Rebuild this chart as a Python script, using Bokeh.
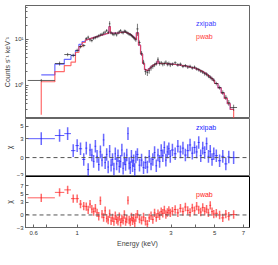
import numpy as np
from bokeh.plotting import figure
from bokeh.layouts import column
from bokeh.models import Range1d, FixedTicker, Span, Label
from bokeh.embed import file_html
from bokeh.resources import INLINE

# ---------------- data ----------------
edges = [0.56, 0.77, 0.86, 0.93, 0.98, 1.02, 1.06, 1.10,
         1.125, 1.15, 1.175, 1.20, 1.225, 1.25, 1.275, 1.30, 1.325, 1.35, 1.375, 1.40,
         1.425, 1.45, 1.475, 1.50, 1.525, 1.55, 1.575, 1.60, 1.625, 1.65, 1.675, 1.70,
         1.725, 1.75, 1.775, 1.80, 1.825, 1.85, 1.875, 1.90, 1.925, 1.95, 1.975, 2.00,
         2.05, 2.10, 2.15, 2.20, 2.25, 2.30, 2.35, 2.40, 2.45, 2.50,
         2.55, 2.60, 2.65, 2.70, 2.75, 2.80, 2.85, 2.90, 2.95, 3.00,
         3.1, 3.2, 3.3, 3.4, 3.5, 3.6, 3.7, 3.8, 3.9, 4.0,
         4.1, 4.2, 4.3, 4.4, 4.5, 4.6, 4.7, 4.8, 4.9, 5.0,
         5.2, 5.4, 5.6, 5.8, 6.0, 6.5]

counts = [1.28, 3.0, 4.7, 4.5, 5.8, 7.0, 7.4,
          10.5, 11.2, 9.8, 9.5, 10.6, 11.0, 11.5, 12.0, 12.6, 13.0, 13.8, 14.5, 15.7, 14.2, 22.0,
          14.0, 13.2, 12.8, 13.5, 12.6, 13.9, 14.8, 15.6, 14.4, 14.0, 15.2, 15.0, 14.3, 13.6, 13.0,
          12.8, 12.2, 11.6, 11.0, 10.4, 9.8,
          17.0, 8.6, 5.0, 3.2, 2.0, 1.9, 2.1, 2.4, 2.6, 2.8, 3.0, 3.7, 3.0, 3.1, 2.9, 3.0, 3.2, 2.9, 3.0, 2.8,
          2.9, 3.1, 2.8, 2.9, 2.6, 2.7, 2.5, 2.6, 2.4, 2.5, 2.3, 2.2, 2.05, 1.95, 1.8, 1.75, 1.6, 1.5, 1.4, 1.3,
          1.1, 0.9, 0.7, 0.55, 0.42, 0.33]

count_err = [0.1, 0.3, 0.4, 0.4, 0.5, 0.6, 0.6,
             0.8, 0.9, 0.8, 0.8, 0.9, 0.9, 0.9, 1.0, 1.0, 1.0, 1.1, 1.1, 1.2, 1.1, 3.0,
             1.1, 1.0, 1.0, 1.1, 1.0, 1.1, 1.2, 1.2, 1.1, 1.1, 1.2, 1.2, 1.1, 1.1, 1.0,
             1.0, 1.0, 0.9, 0.9, 0.9, 0.9,
             5.0, 0.9, 0.6, 0.4, 0.3, 0.3, 0.3, 0.3, 0.3, 0.3, 0.3, 0.4, 0.3, 0.3, 0.3, 0.3, 0.3, 0.3, 0.3, 0.3,
             0.25, 0.25, 0.25, 0.25, 0.22, 0.22, 0.22, 0.22, 0.2, 0.2, 0.2, 0.2, 0.18, 0.18, 0.17, 0.17, 0.16, 0.15, 0.14, 0.13,
             0.1, 0.09, 0.08, 0.07, 0.06, 0.05]

model_low_zxipab = [1.7, 2.9, 3.7, 4.5, 5.7, 7.8, 9.0]
model_low_pwab = [1.2, 2.0, 2.7, 3.2, 5.2, 7.0, 8.6]
model_common = [9.8, 10.1, 10.4, 10.7, 11.0, 11.3, 11.6, 11.9, 12.2, 12.5, 12.8, 13.1, 13.4, 13.6, 19.0,
                13.8, 13.8, 13.7, 13.7, 13.7, 13.8, 14.0, 14.2, 14.3, 14.4, 14.4, 14.3, 14.1, 13.8, 13.4,
                13.0, 12.5, 11.9, 11.3, 10.7, 10.0,
                14.0, 7.5, 4.8, 3.0, 2.2, 2.1, 2.3, 2.5, 2.7, 2.85, 2.95, 3.4, 3.0, 3.0, 3.0, 3.0, 3.0, 2.95, 2.95, 2.9,
                2.9, 2.85, 2.8, 2.75, 2.7, 2.65, 2.6, 2.5, 2.45, 2.4, 2.3, 2.2, 2.1, 2.0, 1.88, 1.76, 1.64, 1.52, 1.4, 1.28,
                1.1, 0.88, 0.68, 0.52, 0.4, 0.3]
pwab_start = 0.23
pwab_end = 0.1

chi_zxipab = [3.0, 3.5, 3.8, 1.1, 1.9, 1.4, -0.3,
              1.5, -1.9, 1.2, 0.4, -0.6, 1.8, 0.2, -1.1, 0.9, -0.4, 2.8, -0.8, 0.5, -1.5, 1.0, -1.2, -0.3, -1.8,
              0.6, -1.0, 0.3, -1.4, -0.6, 1.2, -1.7, -0.2, -1.1, 0.4, 3.8, -0.9, -1.6, 0.2, -1.3, -0.5, -1.9, 0.1,
              0.5, -1.2, -0.4, -1.6, -0.8, -1.5, 0.2, -1.0, -0.3, 0.8, -1.3, 0.4, -0.6, 1.1, 0.3, 1.6, -0.4, 0.9, 1.4, 0.2,
              1.2, 0.6, 1.8, 0.9, 1.5, 0.4, 1.1, 2.0, 0.7, 1.6, 0.9, 2.4, 0.3, 1.5, 0.8, 2.2, 0.2, 1.0, -0.3, 0.6,
              0.3, -0.5, 0.2, -1.0, 0.1, 0.0]
chi_pwab = [4.1, 5.4, 6.0, 3.9, 3.9, 2.6, 2.1,
            2.0, 1.2, 2.6, 1.4, 0.8, 1.6, 0.5, -0.3, 3.4, 0.2, -0.6, 1.0, -0.8, -1.2, 0.3, -1.4, -0.7, -1.6,
            -0.2, -1.1, -1.5, -0.4, -1.8, -0.9, -1.3, 0.1, -1.6, -1.0, 3.5, -1.2, -1.7, -0.5, -1.4, -0.8, -2.0, -0.6,
            0.2, -1.0, -1.3, -0.5, -1.5, -2.2, -0.7, -0.2, -1.1, 0.5, -0.6, 0.3, -0.2, 0.8, 0.4, 1.2, 0.1, 0.6, 1.1, 0.5,
            0.9, 1.3, 0.5, 1.6, 0.8, 1.9, 1.1, 0.6, 1.7, 1.0, 2.1, 1.2, 0.7, 1.8, 0.9, 1.4, 0.5, 2.3, 0.8, 0.2,
            0.4, 0.0, -0.7, 0.2, -0.3, 0.1]
chi_err = 1.0

x_ticks = [0.6, 0.7, 1, 3, 4, 5, 7]
x_tick_labels = {0.6: "0.6", 0.7: " ", 1: "1", 3: "3", 4: " ", 5: "5", 7: "7"}
top_major = [1, 10]
top_minor = [0.2, 0.3, 0.4, 0.5, 0.6, 0.7, 0.8, 0.9, 2, 3, 4, 5, 6, 7, 8, 9, 20, 30, 40, 50]
mid_ticks = [-3, 0, 3, 5]
bot_ticks = [-3, 0, 3, 5, 7]

# ---------------- derived ----------------
lo = np.array(edges[:-1]); hi = np.array(edges[1:])
cen = np.sqrt(lo * hi)
cnt = np.array(counts); cerr = np.array(count_err)
m_b = np.array(model_low_zxipab + model_common)
m_r = np.array(model_low_pwab + model_common)
n = len(cen)

def step(m):
    xs = [cen[0]]; ys = [m[0]]
    for i in range(n):
        xr_ = hi[i] if i < n - 1 else cen[-1]
        xs.append(xr_); ys.append(m[i])
        if i < n - 1:
            xs.append(hi[i]); ys.append(m[i + 1])
    return xs, ys

FONT = "Liberation Sans"
GREY = "#666666"
BLUE = "#3a3aff"
RED = "#ff3a3a"
xr = Range1d(0.546, 7.52)

def style_axis(ax):
    ax.axis_line_color = GREY
    ax.major_tick_line_color = GREY
    ax.minor_tick_line_color = GREY
    ax.major_tick_in = 3
    ax.major_tick_out = 0
    ax.minor_tick_in = 2
    ax.minor_tick_out = 0
    ax.major_label_text_font = FONT
    ax.major_label_text_color = "#333333"
    ax.major_label_text_font_size = "6px"
    ax.major_label_standoff = 2
    ax.axis_label_text_font = FONT
    ax.axis_label_text_font_style = "normal"
    ax.axis_label_text_font_size = "7px"
    ax.axis_label_standoff = 1

def base(height, ytype, yrange, top_border, bottom_border):
    p = figure(width=262, height=height, x_axis_type="log", y_axis_type=ytype,
               x_range=xr, y_range=yrange, output_backend="svg", toolbar_location=None,
               min_border_left=19, min_border_right=13, min_border_top=top_border,
               min_border_bottom=bottom_border)
    p.grid.visible = False
    p.outline_line_color = GREY
    p.background_fill_color = "white"
    p.border_fill_color = "white"
    return p

# ---------------- top panel ----------------
p1 = base(118, "log", Range1d(0.19, 55), 5, 0)
p1.yaxis.ticker = FixedTicker(ticks=top_major, minor_ticks=top_minor)
p1.yaxis.major_label_overrides = {1: "10⁰", 10: "10¹"}
p1.yaxis.axis_label = "Counts s⁻¹ keV⁻¹"
style_axis(p1.yaxis[0])
p1.xaxis.visible = False

bx, by = step(m_b)
p1.line(bx, by, line_color=BLUE, line_alpha=0.75, line_width=1.2)
rx, ry = step(m_r)
rx = [cen[0]] + rx + [cen[-1]]
ry = [pwab_start] + ry + [pwab_end]
p1.line(rx, ry, line_color=RED, line_alpha=0.75, line_width=1.2)
p1.segment(x0=lo, y0=cnt, x1=hi, y1=cnt, line_color="#222222", line_alpha=0.7, line_width=1)
p1.segment(x0=cen, y0=cnt - cerr, x1=cen, y1=cnt + cerr, line_color="#222222", line_alpha=0.6, line_width=1)
p1.add_layout(Label(x=4.02, y=22.3, text="zxipab", text_color=BLUE, text_font=FONT,
                    text_font_size="7px", text_baseline="middle"))
p1.add_layout(Label(x=4.02, y=11.6, text="pwab", text_color=RED, text_font=FONT,
                    text_font_size="7px", text_baseline="middle"))

# ---------------- residual panels ----------------
def resid(height, yr, ticks, chi, color, name, ly, bottom_border, bottom_labels):
    p = base(height, "linear", Range1d(*yr), 0, bottom_border)
    p.yaxis.ticker = FixedTicker(ticks=ticks)
    p.yaxis.major_label_overrides = {-3: "−3"}
    p.yaxis.axis_label = "χ"
    style_axis(p.yaxis[0])
    if bottom_labels:
        p.xaxis.ticker = FixedTicker(ticks=x_ticks)
        p.xaxis.major_label_overrides = x_tick_labels
        p.xaxis.axis_label = "Energy (keV)"
        style_axis(p.xaxis[0])
    else:
        p.xaxis.visible = False
    p.add_layout(Span(location=0, dimension="width", line_color="#555555",
                      line_dash="4 3", line_width=1))
    c = np.array(chi)
    p.segment(x0=lo, y0=c, x1=hi, y1=c, line_color=color, line_alpha=0.7, line_width=1)
    p.segment(x0=cen, y0=c - chi_err, x1=cen, y1=c + chi_err, line_color=color,
              line_alpha=0.65, line_width=1.5)
    p.add_layout(Label(x=4.02, y=ly, text=name, text_color=color, text_font=FONT,
                       text_font_size="7px", text_baseline="middle"))
    return p

p2 = resid(58, (-3, 6.2), mid_ticks, chi_zxipab, "#1a1aff", "zxipab", 4.7, 0, False)
p3 = resid(73, (-3, 9.2), bot_ticks, chi_pwab, "#ff1a1a", "pwab", 4.9, 16, True)
p3.outline_line_color = "black"
p3.outline_line_width = 1

lay = column(p1, p2, p3, spacing=0)
open("out.html", "w").write(file_html(lay, INLINE))
